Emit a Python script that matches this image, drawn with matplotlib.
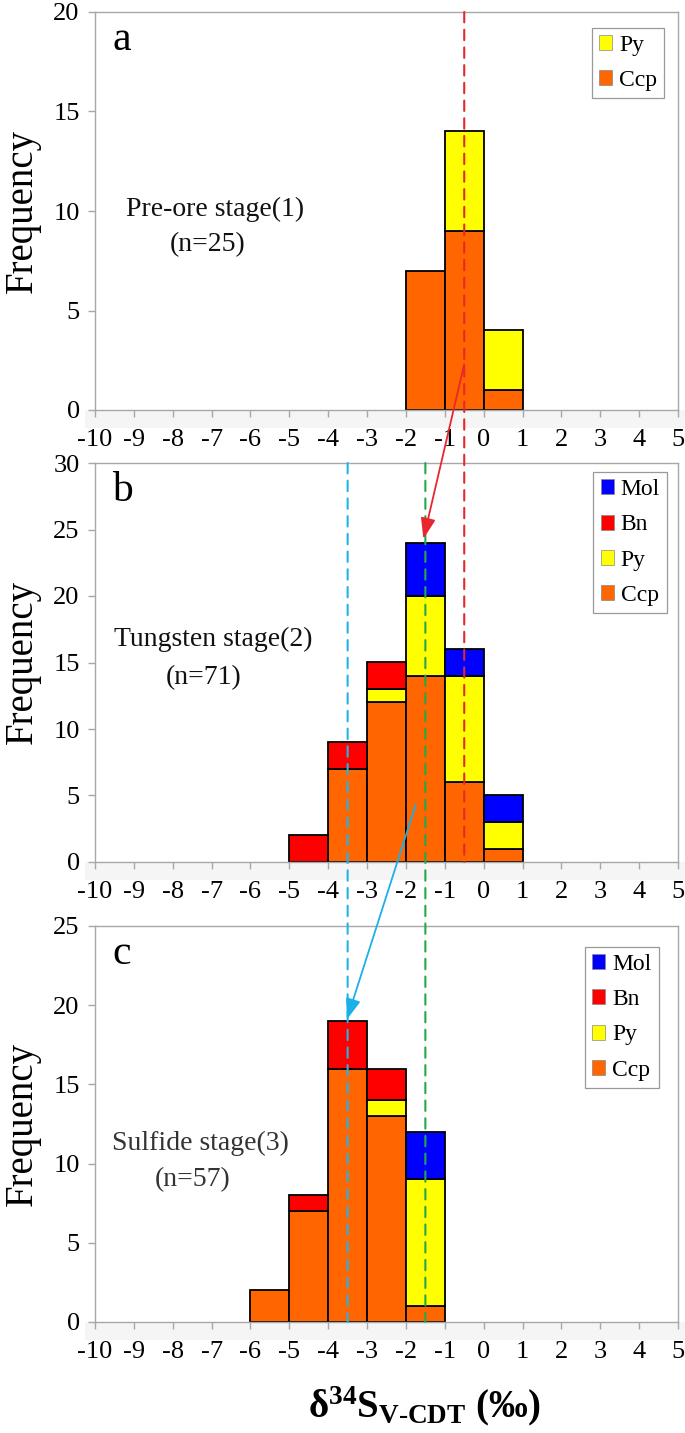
import matplotlib
matplotlib.use("Agg")
import matplotlib.pyplot as plt
from matplotlib.patches import ConnectionPatch, Rectangle, Patch

plt.rcParams['font.family'] = ['Liberation Serif', 'DejaVu Serif']
plt.rcParams['mathtext.fontset'] = 'custom'
plt.rcParams['mathtext.rm'] = 'Liberation Serif'
plt.rcParams['mathtext.bf'] = 'Liberation Serif:bold'
plt.rcParams['mathtext.it'] = 'Liberation Serif:italic'

# ---- data ----
bins_a = [-2, -1, 0]
a_Ccp = [7, 9, 1]
a_Py = [0, 5, 3]

bins_b = [-5, -4, -3, -2, -1, 0]
b_Ccp = [0, 7, 12, 14, 6, 1]
b_Py = [0, 0, 1, 6, 8, 2]
b_Bn = [2, 2, 2, 0, 0, 0]
b_Mol = [0, 0, 0, 4, 2, 2]

bins_c = [-6, -5, -4, -3, -2]
c_Ccp = [2, 7, 16, 13, 1]
c_Py = [0, 0, 0, 1, 8]
c_Bn = [0, 1, 3, 2, 0]
c_Mol = [0, 0, 0, 0, 3]

xticks = list(range(-10, 6))
mean_a, mean_b, mean_c = -0.5, -1.5, -3.5

colors = {'Ccp': '#ff6600', 'Py': '#ffff00', 'Bn': '#ff0000', 'Mol': '#0000ff'}

W, H = 685, 1433
fig = plt.figure(figsize=(W / 100, H / 100), dpi=100)

left = 95 / W
width = 583 / W
def frame(top, bottom):
    return [left, 1 - bottom / H, width, (bottom - top) / H]

ax_a = fig.add_axes(frame(12, 410))
ax_b = fig.add_axes(frame(463, 862))
ax_c = fig.add_axes(frame(926, 1322))

def draw_stack(ax, bins, series):
    bottoms = [0] * len(bins)
    for name, vals in series:
        for i, (x, v) in enumerate(zip(bins, vals)):
            if v > 0:
                ax.bar(x, v, width=1, bottom=bottoms[i], align='edge',
                       color=colors[name], edgecolor='black', linewidth=1.3, zorder=2)
            bottoms[i] += v

draw_stack(ax_a, bins_a, [('Ccp', a_Ccp), ('Py', a_Py)])
draw_stack(ax_b, bins_b, [('Ccp', b_Ccp), ('Py', b_Py), ('Bn', b_Bn), ('Mol', b_Mol)])
draw_stack(ax_c, bins_c, [('Ccp', c_Ccp), ('Py', c_Py), ('Bn', c_Bn), ('Mol', c_Mol)])

for ax, ymax, letter in [(ax_a, 20, 'a'), (ax_b, 30, 'b'), (ax_c, 25, 'c')]:
    ax.set_xlim(-10, 5)
    ax.set_ylim(0, ymax)
    ax.set_xticks(xticks)
    ax.set_xticklabels([str(t) for t in xticks])
    ax.set_yticks(list(range(0, ymax + 1, 5)))
    for sp in ax.spines.values():
        sp.set_color('#a8a8a8')
        sp.set_linewidth(1.0)
    ax.tick_params(axis='both', colors='#a8a8a8', labelcolor='black',
                   labelsize=19, length=5, width=1.0, direction='out')
    ax.tick_params(axis='x', pad=9)
    ax.tick_params(axis='y', pad=6)
    ax.text(0.03, 0.905, letter, transform=ax.transAxes, fontsize=30, ha='left',
            va='baseline')
    fig.text(22 / W, (ax.get_position().y0 + ax.get_position().y1) / 2, 'Frequency',
             rotation=90, ha='center', va='center', fontsize=28)
    # light band under the axis
    pos = ax.get_position()
    fig.patches.append(Rectangle((85 / W, pos.y0 - 18 / H), (W - 85) / W, 18 / H,
                                 transform=fig.transFigure, facecolor='#f5f5f5',
                                 edgecolor='none', zorder=-5))

ax_a.text(-6.9, 10.1, 'Pre-ore stage(1)', fontsize=20, ha='center', va='center', color='#111111')
ax_a.text(-7.1, 8.3, '(n=25)', fontsize=20, ha='center', va='center', color='#111111')
ax_b.text(-6.95, 16.7, 'Tungsten stage(2)', fontsize=20, ha='center', va='center', color='#111111')
ax_b.text(-7.2, 13.9, '(n=71)', fontsize=20, ha='center', va='center', color='#111111')
ax_c.text(-7.3, 11.3, 'Sulfide stage(3)', fontsize=20, ha='center', va='center', color='#333333')
ax_c.text(-7.5, 9.0, '(n=57)', fontsize=20, ha='center', va='center', color='#333333')

def legend(ax, names, anchor):
    handles = [Patch(facecolor=colors[n], edgecolor='#888888', linewidth=0.5) for n in names]
    lg = ax.legend(handles, names, loc='upper right', bbox_to_anchor=anchor,
                   borderaxespad=0, fontsize=17, handlelength=0.55, handleheight=0.6,
                   handletextpad=0.3, labelspacing=0.6, borderpad=0.3,
                   fancybox=False, framealpha=1, edgecolor='#999999')
    lg.get_frame().set_linewidth(0.9)
    lg.set_zorder(6)

legend(ax_a, ['Py', 'Ccp'], (0.976, 0.96))
legend(ax_b, ['Mol', 'Bn', 'Py', 'Ccp'], (0.981, 0.977))
legend(ax_c, ['Mol', 'Bn', 'Py', 'Ccp'], (0.967, 0.947))

dash = (0, (5, 3.5))
def vline(axA, yA, axB, yB, x, color):
    cp = ConnectionPatch(xyA=(x, yA), coordsA='data', axesA=axA,
                         xyB=(x, yB), coordsB='data', axesB=axB,
                         color=color, linewidth=1.5, linestyle=dash,
                         shrinkA=0, shrinkB=0, zorder=5)
    fig.add_artist(cp)

vline(ax_a, 20, ax_b, 0, mean_a, '#e8262e')
vline(ax_b, 30, ax_c, 0, mean_b, '#23a84a')
vline(ax_b, 30, ax_c, 0, mean_c, '#22b4e6')

def arrow(axA, xyA, axB, xyB, color):
    cp = ConnectionPatch(xyA=xyA, coordsA='data', axesA=axA,
                         xyB=xyB, coordsB='data', axesB=axB,
                         color=color, linewidth=1.3,
                         arrowstyle='-|>,head_length=0.7,head_width=0.25',
                         mutation_scale=18, shrinkA=0, shrinkB=0, zorder=6)
    fig.add_artist(cp)

arrow(ax_a, (-0.5, 2.3), ax_b, (-1.55, 24.3), '#e8262e')
arrow(ax_b, (-1.75, 4.3), ax_c, (-3.52, 19.1), '#1ab0ea')

fig.text(424 / W, 1 - 1406 / H, r'$\mathbf{\delta^{34}S_{V\text{-}CDT}}$ (‰)',
         fontsize=28, fontweight='bold', ha='center', va='center')

fig.savefig('out.png', dpi=100, facecolor='white')
